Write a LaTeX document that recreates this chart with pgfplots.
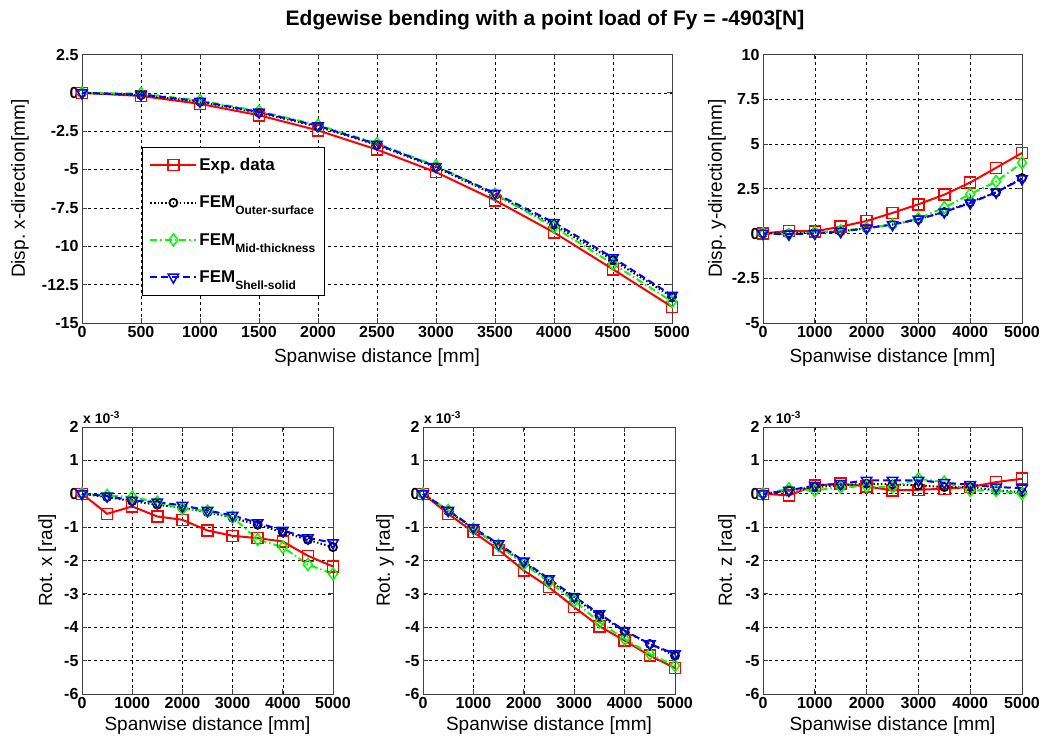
\documentclass[border=0pt]{standalone}
\usepackage{fontspec}
\setmainfont{Liberation Sans}
\usepackage{pgfplots}
\pgfplotsset{compat=1.18}
\frenchspacing

\pgfplotsset{
  mat/.style={
    scale only axis,
    xmin=0, xmax=5000,
    clip=false,
    axis line style={black!75, line width=0.9pt},
    tick align=inside,
    major tick length=5pt,
    tick style={black!75, line width=0.8pt},
    grid=major,
    major grid style={black, line width=0.6pt, dash pattern=on 3pt off 3pt},
    /pgf/number format/assume math mode=true,
    /pgf/number format/fixed,
    /pgf/number format/1000 sep={},
    ticklabel style={font=\fontsize{16}{18}\selectfont\bfseries},
    xlabel style={font=\fontsize{19}{22}\selectfont, anchor=center},
    ylabel style={font=\fontsize{19}{22}\selectfont, anchor=center},
    legend image code/.code={\draw[mark repeat=2, mark phase=2, #1] plot coordinates {(0pt,0pt) (23pt,0pt) (46pt,0pt)};},
  },
  exps/.style={red, line width=2pt, solid, mark=square, mark size=5.5pt, mark options={solid, line width=1.5pt}},
  outs/.style={black, line width=2pt, dash pattern=on 1.5pt off 2.2pt, mark=o, mark size=4pt, mark options={solid, line width=1.8pt}},
  mids/.style={green, line width=2pt, dash pattern=on 7pt off 3pt on 1.5pt off 3pt, mark=diamond, mark size=6pt, mark options={solid, line width=1.5pt}},
  shls/.style={blue, line width=2pt, dash pattern=on 7pt off 4pt, mark=triangle, mark size=6pt, mark options={solid, rotate=180, line width=1.5pt}},
}

\newcommand{\sub}[1]{\raisebox{-7pt}{\fontsize{12}{13}\selectfont #1}}
\newcommand{\expo}{\node[anchor=south west, inner sep=1pt, yshift=2pt, font=\fontsize{14}{16}\selectfont\bfseries] at (rel axis cs:0,1) {x 10\raisebox{5pt}{\fontsize{10}{11}\selectfont -3}};}

\begin{document}
\begin{tikzpicture}
\path[use as bounding box] (0pt,0pt) rectangle (1043pt,740pt);

% ---------- Top-left: Disp x ----------
\begin{axis}[mat, at={(82pt,417pt)}, anchor=south west, width=590pt, height=268.5pt,
  ymin=-15, ymax=2.5, ytick={-15,-12.5,-10,-7.5,-5,-2.5,0,2.5},
  xtick={0,500,...,5000},
  xlabel={Spanwise distance [mm]}, ylabel={Disp. x-direction[mm]},
  xlabel style={at={(axis description cs:0.5,-0.127)}},
  ylabel style={at={(axis description cs:-0.105,0.5)}},
  legend style={at={(axis description cs:0.102,0.655)}, anchor=north west, draw=black, fill=white,
    font=\fontsize{17}{19}\selectfont\bfseries, row sep=20pt, inner xsep=7pt, inner ysep=9pt},
  legend cell align=left]
\addplot[exps] coordinates {(0,0) (500,-0.2) (1000,-0.72) (1500,-1.46) (2000,-2.45) (2500,-3.7) (3000,-5.17) (3500,-7.0) (4000,-9.1) (4500,-11.5) (5000,-13.95)};
\addlegendentry{Exp. data}
\addplot[outs] coordinates {(0,0) (500,-0.15) (1000,-0.58) (1500,-1.3) (2000,-2.2) (2500,-3.4) (3000,-4.85) (3500,-6.65) (4000,-8.6) (4500,-10.9) (5000,-13.3)};
\addlegendentry{FEM\sub{Outer-surface}}
\addplot[mids] coordinates {(0,0) (500,-0.05) (1000,-0.5) (1500,-1.2) (2000,-2.1) (2500,-3.3) (3000,-4.75) (3500,-6.6) (4000,-8.75) (4500,-11.15) (5000,-13.6)};
\addlegendentry{FEM\sub{Mid-thickness}}
\addplot[shls] coordinates {(0,0) (500,-0.1) (1000,-0.55) (1500,-1.25) (2000,-2.15) (2500,-3.35) (3000,-4.8) (3500,-6.55) (4000,-8.45) (4500,-10.75) (5000,-13.2)};
\addlegendentry{FEM\sub{Shell-solid}}
\end{axis}

% ---------- Top-right: Disp y ----------
\begin{axis}[mat, at={(763pt,417pt)}, anchor=south west, width=259pt, height=268.5pt,
  ymin=-5, ymax=10, ytick={-5,-2.5,0,2.5,5,7.5,10},
  xtick={0,1000,...,5000},
  xlabel={Spanwise distance [mm]}, ylabel={Disp. y-direction[mm]},
  xlabel style={at={(axis description cs:0.5,-0.127)}},
  ylabel style={at={(axis description cs:-0.178,0.5)}}]
\addplot[exps] coordinates {(0,0) (500,0.15) (1000,0.12) (1500,0.38) (2000,0.7) (2500,1.15) (3000,1.63) (3500,2.17) (4000,2.85) (4500,3.67) (5000,4.5)};
\addplot[outs] coordinates {(0,0) (500,0.0) (1000,0.05) (1500,0.12) (2000,0.3) (2500,0.5) (3000,0.8) (3500,1.2) (4000,1.75) (4500,2.3) (5000,3.1)};
\addplot[mids] coordinates {(0,0) (500,-0.05) (1000,0.05) (1500,0.15) (2000,0.3) (2500,0.5) (3000,0.83) (3500,1.45) (4000,2.2) (4500,2.9) (5000,3.95)};
\addplot[shls] coordinates {(0,0) (500,-0.03) (1000,0.0) (1500,0.1) (2000,0.3) (2500,0.5) (3000,0.8) (3500,1.2) (4000,1.7) (4500,2.3) (5000,3.05)};
\end{axis}

% ---------- Bottom-left: Rot x ----------
\begin{axis}[mat, at={(82pt,46pt)}, anchor=south west, width=251pt, height=267pt,
  ymin=-6, ymax=2, ytick={-6,-5,...,2},
  xtick={0,1000,...,5000},
  xlabel={Spanwise distance [mm]}, ylabel={Rot. x [rad]},
  xlabel style={at={(axis description cs:0.5,-0.12)}},
  ylabel style={at={(axis description cs:-0.139,0.5)}}]
\addplot[exps] coordinates {(0,0) (500,-0.6) (1000,-0.38) (1500,-0.68) (2000,-0.78) (2500,-1.1) (3000,-1.26) (3500,-1.33) (4000,-1.43) (4500,-1.86) (5000,-2.18)};
\addplot[outs] coordinates {(0,0) (500,-0.1) (1000,-0.22) (1500,-0.33) (2000,-0.42) (2500,-0.55) (3000,-0.72) (3500,-0.93) (4000,-1.15) (4500,-1.38) (5000,-1.6)};
\addplot[mids] coordinates {(0,0) (500,-0.05) (1000,-0.1) (1500,-0.25) (2000,-0.45) (2500,-0.52) (3000,-0.7) (3500,-1.37) (4000,-1.6) (4500,-2.12) (5000,-2.4)};
\addplot[shls] coordinates {(0,0) (500,-0.07) (1000,-0.2) (1500,-0.25) (2000,-0.35) (2500,-0.5) (3000,-0.65) (3500,-0.87) (4000,-1.1) (4500,-1.32) (5000,-1.47)};
\expo
\end{axis}

% ---------- Bottom-middle: Rot y ----------
\begin{axis}[mat, at={(423pt,46pt)}, anchor=south west, width=252pt, height=267pt,
  ymin=-6, ymax=2, ytick={-6,-5,...,2},
  xtick={0,1000,...,5000},
  xlabel={Spanwise distance [mm]}, ylabel={Rot. y [rad]},
  xlabel style={at={(axis description cs:0.5,-0.12)}},
  ylabel style={at={(axis description cs:-0.151,0.5)}}]
\addplot[exps] coordinates {(0,0) (500,-0.6) (1000,-1.15) (1500,-1.68) (2000,-2.3) (2500,-2.8) (3000,-3.4) (3500,-3.97) (4000,-4.4) (4500,-4.85) (5000,-5.22)};
\addplot[outs] coordinates {(0,0) (500,-0.52) (1000,-1.05) (1500,-1.55) (2000,-2.05) (2500,-2.6) (3000,-3.12) (3500,-3.65) (4000,-4.12) (4500,-4.5) (5000,-4.85)};
\addplot[mids] coordinates {(0,0) (500,-0.5) (1000,-1.05) (1500,-1.55) (2000,-2.1) (2500,-2.65) (3000,-3.2) (3500,-3.85) (4000,-4.35) (4500,-4.8) (5000,-5.15)};
\addplot[shls] coordinates {(0,0) (500,-0.5) (1000,-1.02) (1500,-1.5) (2000,-2.02) (2500,-2.55) (3000,-3.08) (3500,-3.6) (4000,-4.1) (4500,-4.5) (5000,-4.8)};
\expo
\end{axis}

% ---------- Bottom-right: Rot z ----------
\begin{axis}[mat, at={(763pt,46pt)}, anchor=south west, width=259pt, height=267pt,
  ymin=-6, ymax=2, ytick={-6,-5,...,2},
  xtick={0,1000,...,5000},
  xlabel={Spanwise distance [mm]}, ylabel={Rot. z [rad]},
  xlabel style={at={(axis description cs:0.5,-0.12)}},
  ylabel style={at={(axis description cs:-0.139,0.5)}}]
\addplot[exps] coordinates {(0,0) (500,-0.05) (1000,0.25) (1500,0.3) (2000,0.22) (2500,0.1) (3000,0.12) (3500,0.15) (4000,0.2) (4500,0.35) (5000,0.45)};
\addplot[outs] coordinates {(0,0) (500,0.1) (1000,0.2) (1500,0.25) (2000,0.3) (2500,0.28) (3000,0.25) (3500,0.2) (4000,0.2) (4500,0.1) (5000,0.05)};
\addplot[mids] coordinates {(0,0) (500,0.15) (1000,0.1) (1500,0.2) (2000,0.22) (2500,0.2) (3000,0.45) (3500,0.35) (4000,0.1) (4500,0.1) (5000,0.0)};
\addplot[shls] coordinates {(0,0) (500,0.1) (1000,0.25) (1500,0.3) (2000,0.4) (2500,0.4) (3000,0.4) (3500,0.33) (4000,0.27) (4500,0.2) (5000,0.17)};
\expo
\end{axis}

\node[font=\fontsize{21}{24}\selectfont\bfseries] at (545pt,720pt) {Edgewise bending with a point load of Fy = -4903[N]};
\end{tikzpicture}
\end{document}
